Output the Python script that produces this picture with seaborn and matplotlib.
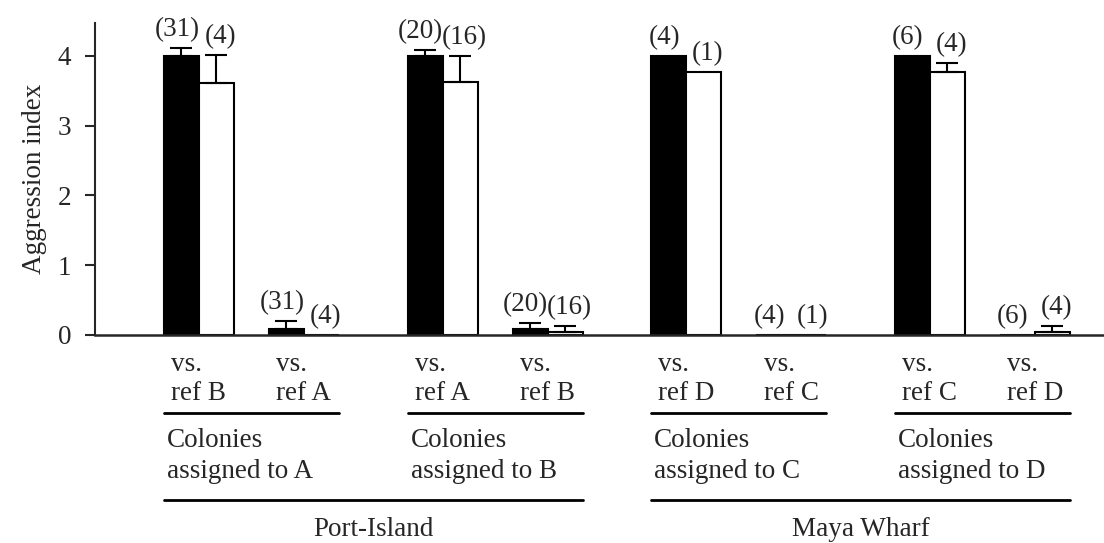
import numpy as np
import pandas as pd
import seaborn as sns
import matplotlib
matplotlib.use("Agg")
import matplotlib.pyplot as plt
from matplotlib import transforms

# DATA
comparisons = ["vs.\nref B", "vs.\nref A", "vs.\nref A", "vs.\nref B",
               "vs.\nref D", "vs.\nref C", "vs.\nref C", "vs.\nref D"]
colony_groups = ["Colonies\nassigned to A", "Colonies\nassigned to B",
                 "Colonies\nassigned to C", "Colonies\nassigned to D"]
sites = ["Port-Island", "Maya Wharf"]

black_mean = [4.0, 0.08, 4.0, 0.08, 4.0, 0.0, 4.0, 0.0]
black_err = [0.11, 0.12, 0.09, 0.09, 0.0, 0.0, 0.0, 0.0]
black_n = [31, 31, 20, 20, 4, 4, 6, 6]

white_mean = [3.61, 0.0, 3.63, 0.05, 3.77, 0.0, 3.77, 0.05]
white_err = [0.40, 0.0, 0.37, 0.08, 0.0, 0.0, 0.13, 0.08]
white_n = [4, 4, 16, 16, 1, 1, 4, 4]

# layout: pairs of bars, extra gap between colony groups
gap = 0.32
pos = [i + (i // 2) * gap for i in range(len(comparisons))]
width = 0.667
half = width / 2

df = pd.DataFrame({
    "pos": pos + pos,
    "series": ["black"] * len(pos) + ["white"] * len(pos),
    "value": black_mean + white_mean,
})

sns.set_style("ticks")
plt.rcParams["font.family"] = ["Liberation Serif", "DejaVu Serif"]
FS = 19.5

W, H = 1104, 543
fig = plt.figure(figsize=(W / 100, H / 100), dpi=100)
ax = fig.add_axes([95 / W, 1 - 335 / H, (W - 95) / W, (335 - 23) / H])

sns.barplot(data=df, x="pos", y="value", hue="series", hue_order=["black", "white"],
            palette={"black": "black", "white": "white"}, native_scale=True,
            width=width, saturation=1, edgecolor="black", linewidth=1.5,
            errorbar=None, legend=False, ax=ax)

# error bars (upper only) and sample sizes
for cont, errs, ns, dx in zip(ax.containers, [black_err, white_err],
                              [black_n, white_n], [-3, 3]):
    for bar, e, n in zip(cont, errs, ns):
        x = bar.get_x() + bar.get_width() / 2
        h = bar.get_height()
        if e > 0:
            ax.errorbar(x, h, yerr=[[0], [e]], color="black", capsize=8,
                        elinewidth=1.5, capthick=1.5)
        ax.annotate(f"({n})", (x, h + e), xytext=(dx, 4), textcoords="offset points",
                    ha="center", va="bottom", fontsize=FS)

ax.set_xlim(-0.99, 8.62)
ax.set_ylim(0, 4.47)
ax.set_yticks([0, 1, 2, 3, 4])
ax.set_xticks(pos)
ax.set_xticklabels(comparisons, multialignment="left", linespacing=1.25)
ax.tick_params(axis="x", length=0, pad=12, labelsize=FS)
ax.tick_params(axis="y", length=7, width=1.5, pad=10, labelsize=FS)
ax.set_xlabel("")
ax.set_ylabel("Aggression index", fontsize=FS, labelpad=8)
sns.despine(ax=ax)
ax.spines["left"].set_linewidth(1.5)
ax.spines["bottom"].set_linewidth(1.8)

# bracket lines and group names under the axis
trans = transforms.blended_transform_factory(ax.transData, fig.transFigure)
def py(v):
    return 1 - v / H

for g, name in enumerate(colony_groups):
    x0 = pos[2 * g] - half
    x1 = pos[2 * g + 1] + half
    ax.plot([x0, x1], [py(413), py(413)], transform=trans, color="black",
            lw=2, clip_on=False)
    ax.text(x0 + 0.03, py(456), name, transform=trans, ha="left", va="center",
            fontsize=FS, linespacing=1.35)

for s, name in enumerate(sites):
    x0 = pos[4 * s] - half
    x1 = pos[4 * s + 3] + half
    ax.plot([x0, x1], [py(500), py(500)], transform=trans, color="black",
            lw=2, clip_on=False)
    ax.text((x0 + x1) / 2, py(530), name, transform=trans, ha="center",
            va="center", fontsize=FS)

fig.savefig("out.png", dpi=100)
